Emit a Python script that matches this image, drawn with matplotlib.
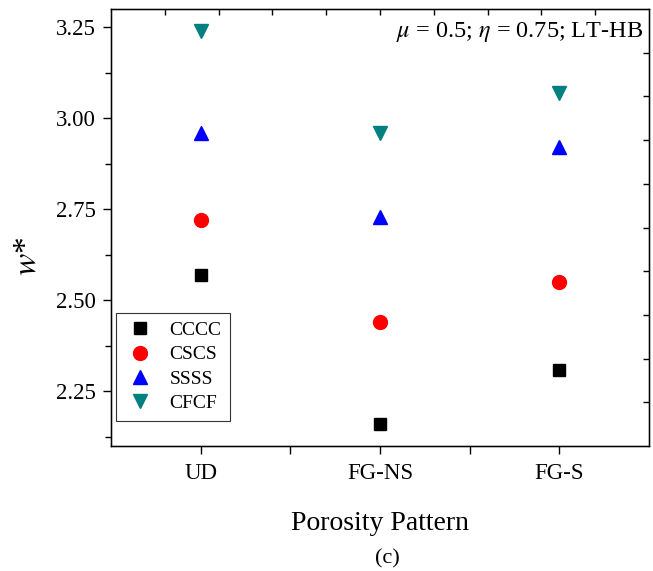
import matplotlib
matplotlib.use("Agg")
import matplotlib.pyplot as plt
import numpy as np

plt.rcParams['font.family'] = ['Liberation Serif', 'DejaVu Serif']
plt.rcParams['mathtext.fontset'] = 'stix'

categories = ["UD", "FG-NS", "FG-S"]
series_names = ["CCCC", "CSCS", "SSSS", "CFCF"]
cccc = [2.57, 2.16, 2.31]
cscs = [2.72, 2.44, 2.55]
ssss = [2.96, 2.73, 2.92]
cfcf = [3.24, 2.96, 3.07]
yticks = [2.25, 2.50, 2.75, 3.00, 3.25]

fig = plt.figure(figsize=(6.53, 5.71), dpi=100)
ax = fig.add_axes([0.170, 0.219, 0.824, 0.765])

x = np.arange(1, len(categories) + 1)
styles = [
    (cccc, 's', '#000000', 8),
    (cscs, 'o', '#ff0000', 10),
    (ssss, '^', '#0000ff', 10),
    (cfcf, 'v', '#008080', 10),
]
for (vals, mk, col, ms), name in zip(styles, series_names):
    ax.plot(x, vals, linestyle='none', marker=mk, color=col, markersize=ms, label=name)

ax.set_xlim(0.5, 3.5)
ax.set_ylim(2.10, 3.30)
ax.set_xticks(x)
ax.set_xticklabels(categories)
ax.set_xticks([1.5, 2.5], minor=True)
ax.set_yticks(yticks)
ax.set_yticklabels([f"{v:.2f}" for v in yticks])
ax.set_yticks([2.125, 2.375, 2.625, 2.875, 3.125], minor=True)
ax.tick_params(axis='both', which='major', direction='out', length=6, width=1.0, labelsize=16.5, pad=5)
ax.tick_params(axis='x', which='minor', direction='out', length=6, width=1.0)
ax.tick_params(axis='y', which='minor', direction='out', length=4, width=1.0)
ax.tick_params(axis='x', which='major', pad=6)
for sp in ax.spines.values():
    sp.set_linewidth(1.0)

ax.set_xlabel("Porosity Pattern", fontsize=20, labelpad=20)
ax.set_ylabel(r"$w$*", fontsize=24)
ax.yaxis.set_label_coords(-0.127, 0.435)

# top and right decorative ticks
axt = ax.twiny()
axt.set_xlim(0, 1)
axt.set_xticks(np.arange(0.1, 0.95, 0.1))
axt.tick_params(axis='x', direction='in', length=4, width=1.0, labeltop=False)
axr = ax.twinx()
axr.set_ylim(0, 1)
axr.set_yticks(np.arange(0.1, 0.95, 0.1))
axr.tick_params(axis='y', direction='in', length=4, width=1.0, labelright=False)

ax.text(0.990, 0.975, r"$\mu$ = 0.5; $\eta$ = 0.75; LT-HB", transform=ax.transAxes,
        ha='right', va='top', fontsize=17.5)

leg = ax.legend(loc='lower left', bbox_to_anchor=(0.009, 0.057), borderaxespad=0,
                fontsize=14, frameon=True, fancybox=False, edgecolor='black',
                handletextpad=0.7, labelspacing=0.35, borderpad=0.45, handlelength=1.6)
leg.get_frame().set_linewidth(0.8)
axt.set_zorder(-1); axr.set_zorder(-1)
ax.set_zorder(1); ax.patch.set_visible(False)

fig.text(0.593, 0.022, "(c)", ha='center', va='center', fontsize=16)

fig.savefig("out.png", dpi=100)
